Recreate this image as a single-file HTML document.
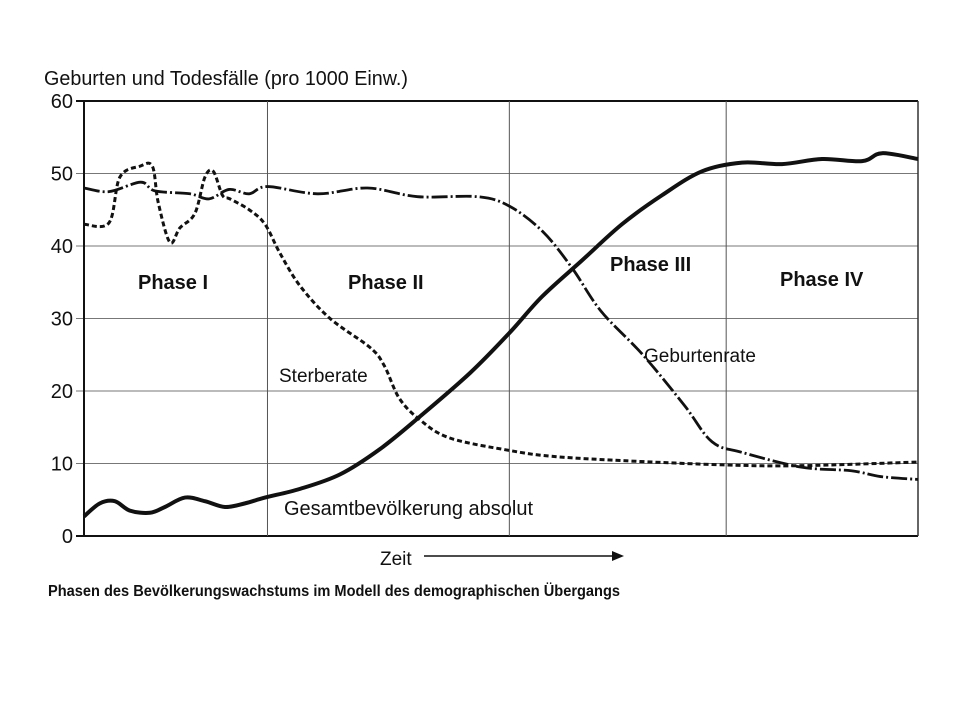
<!DOCTYPE html>
<html><head><meta charset="utf-8"><style>
html,body{margin:0;padding:0;background:#fff;width:960px;height:720px;overflow:hidden}
svg text{font-family:"Liberation Sans",sans-serif;fill:#111}
</style></head><body>
<svg id="chart" width="960" height="720" viewBox="0 0 960 720" xmlns="http://www.w3.org/2000/svg">
<text x="44" y="85" font-size="20" textLength="364" lengthAdjust="spacingAndGlyphs">Geburten und Todesfälle (pro 1000 Einw.)</text>
<g id="grid"></g>
<g id="series"></g>
<text x="138" y="289" font-size="20" font-weight="bold">Phase I</text>
<text x="348" y="289" font-size="20" font-weight="bold">Phase II</text>
<text x="610" y="271" font-size="20" font-weight="bold">Phase III</text>
<text x="780" y="286" font-size="20" font-weight="bold">Phase IV</text>
<text x="279" y="382" font-size="19">Sterberate</text>
<text x="644" y="362" font-size="19">Geburtenrate</text>
<text x="284" y="515" font-size="20">Gesamtbevölkerung absolut</text>
<text x="380" y="565" font-size="19">Zeit</text>
<line x1="424" y1="556" x2="612" y2="556" stroke="#111" stroke-width="1.5"/>
<polygon points="612,551 624,556 612,561" fill="#111"/>
<text x="48" y="596" font-size="16" font-weight="bold" textLength="572" lengthAdjust="spacingAndGlyphs">Phasen des Bevölkerungswachstums im Modell des demographischen Übergangs</text>
</svg>
<script>
const yTicks=[0,10,20,30,40,50,60];
const phaseBounds=[22,51,77];
// time axis 0..100 (x), value axis 0..60
const gebT=[0,3,6.8,8.5,12.7,15,17.4,19.8,22,28,34,40,47.2,51,55,58.5,62,67,72,75.3,79,86,92,95.5,100];
const gebV=[48,47.5,48.8,47.6,47.2,46.5,47.8,47.2,48.2,47.2,48,46.8,46.8,45.5,42,37,31,25,18,13,11.5,9.5,9,8.2,7.8];
const stT=[0,3,4.3,6.7,8.2,8.9,10.3,11.5,13.3,14.5,15.5,16.6,17.5,19.8,21.7,23.5,25.9,29.5,34.3,36,37.8,40.3,43.9,51,56,64.5,77,86,100];
const stV=[43,43.2,49.5,51,51,46,40.5,42.5,44.5,49.5,50.3,47,46.5,45,43,39,34.5,30,26,23.5,19,16,13.5,11.8,11,10.4,9.8,9.7,10.2];
const popT=[0,1.9,3.7,5.5,7.9,9.7,12.1,14.5,16.9,19.3,21.7,25.9,30.7,35.5,40.3,46.3,51,54.9,59.7,64.5,69.3,74.1,78.9,83.7,88.5,93.3,95.7,100];
const popV=[2.7,4.5,4.8,3.5,3.2,4.0,5.3,4.8,4.0,4.5,5.3,6.5,8.5,12,16.5,22.5,28,33,38,43,47,50.3,51.5,51.3,52,51.7,52.8,52];
const X0=84,X1=918,Y0=536,Y1=101;
const sx=t=>X0+(X1-X0)*t/100, sy=v=>Y0-(Y0-Y1)*v/60;
const NS="http://www.w3.org/2000/svg";
const grid=document.getElementById('grid'), ser=document.getElementById('series');
function mk(tag,attrs,parent){const e=document.createElementNS(NS,tag);for(const k in attrs)e.setAttribute(k,attrs[k]);parent.appendChild(e);return e;}
yTicks.forEach(v=>{
  const y=sy(v);
  const l=mk('line',{x1:X0-8,x2:X1,y1:y,y2:y,stroke:v===0||v===60?'#111':'#777','stroke-width':v===0||v===60?2:1},grid);
  
  
  const t=mk('text',{x:X0-11,y:y+7,'text-anchor':'end','font-size':20},grid);
  t.textContent=v;
  
  
});
phaseBounds.forEach((p,i)=>{
  const l=mk('line',{x1:sx(p),x2:sx(p),y1:Y1,y2:Y0,stroke:'#555','stroke-width':1},grid);
  
  
});
let ax=mk('line',{x1:X0,x2:X0,y1:Y1,y2:Y0,stroke:'#111','stroke-width':2},grid);


let rb=mk('line',{x1:X1,x2:X1,y1:Y1,y2:Y0,stroke:'#333','stroke-width':1.5},grid);


function pathD(T,V){
  const p=T.map((t,i)=>[sx(t),sy(V[i])]);
  let d='M'+p[0][0]+','+p[0][1];
  for(let i=0;i<p.length-1;i++){
    const a=p[i-1]||p[i],b=p[i],c=p[i+1],e=p[i+2]||c;
    d+=' C'+(b[0]+(c[0]-a[0])/6)+','+(b[1]+(c[1]-a[1])/6)+' '+(c[0]-(e[0]-b[0])/6)+','+(c[1]-(e[1]-b[1])/6)+' '+c[0]+','+c[1];
  }
  return d;
}
const pop=mk('path',{d:pathD(popT,popV),fill:'none',stroke:'#111','stroke-width':4,'stroke-linejoin':'round'},ser);


const st=mk('path',{d:pathD(stT,stV),fill:'none',stroke:'#111','stroke-width':3,'stroke-dasharray':'5,3'},ser);


const gb=mk('path',{d:pathD(gebT,gebV),fill:'none',stroke:'#111','stroke-width':2.8,'stroke-dasharray':'16,3,2,3'},ser);


</script>
</body></html>
